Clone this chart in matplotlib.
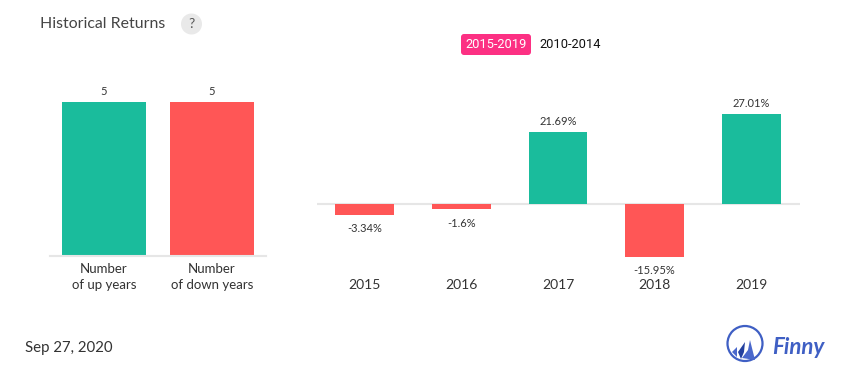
import numpy as np
from matplotlib import pyplot as plt
from matplotlib.patches import Circle, FancyBboxPatch, Polygon

plt.rcParams['font.family'] = ['Lato', 'Open Sans', 'DejaVu Sans']

W, H = 855, 382

count_labels = ['Number\nof up years', 'Number\nof down years']
count_values = [5, 5]

years = ['2015', '2016', '2017', '2018', '2019']
returns = [-3.34, -1.6, 21.69, -15.95, 27.01]
return_labels = ['-3.34%', '-1.6%', '21.69%', '-15.95%', '27.01%']

GREEN = '#1abc9c'
RED = '#ff5656'
GRID = '#e6e6e6'
TEXT = '#333333'


def px_axes(fig, left, top, right, bottom):
    # axes box from pixel edges, y counted from the top of the image
    return fig.add_axes([left / W, 1 - bottom / H, (right - left) / W, (bottom - top) / H])


def clean(ax):
    for side in ['top', 'left', 'right', 'bottom']:
        ax.spines[side].set_visible(False)
    ax.set_yticks([])
    ax.tick_params(axis='x', length=0, labelsize=10, labelcolor=TEXT)


fig = plt.figure(figsize=(W / 100, H / 100), dpi=100)

# left chart
ax1 = px_axes(fig, 50, 70, 266, 255.5)
x1 = np.arange(len(count_values))
ax1.bar(x1, count_values, width=0.778, color=[GREEN, RED], zorder=2)
ax1.set_xlim(-0.5, 1.5)
ax1.set_ylim(0, 5 * 185.5 / 153.5)
clean(ax1)
ax1.spines['bottom'].set_visible(True)
ax1.spines['bottom'].set_color(GRID)
ax1.spines['bottom'].set_linewidth(1.5)
ax1.set_xticks(x1, count_labels, linespacing=1.35)
ax1.tick_params(axis='x', pad=5.5, labelsize=9.5)
for x, v in zip(x1, count_values):
    ax1.annotate(str(v), (x, v), xytext=(0, 3.5), textcoords='offset points',
                 ha='center', va='bottom', fontsize=8, color=TEXT)

# right chart
ax2 = px_axes(fig, 316.5, 70, 799.5, 293)
x2 = np.arange(len(returns))
colors = [GREEN if v > 0 else RED for v in returns]
ax2.bar(x2, returns, width=0.61, color=colors, zorder=2)
ax2.axhline(0, color=GRID, lw=1.5, zorder=1)
ax2.set_xlim(-0.5, 4.5)
ax2.set_ylim(-89 / 3.32, 134 / 3.32)
clean(ax2)
ax2.set_xticks(x2, years)
ax2.tick_params(axis='x', pad=-10)
for x, v, s in zip(x2, returns, return_labels):
    if v > 0:
        ax2.annotate(s, (x, v), xytext=(0, 3.5), textcoords='offset points',
                     ha='center', va='bottom', fontsize=8, color=TEXT)
    else:
        ax2.annotate(s, (x, v), xytext=(0, -6), textcoords='offset points',
                     ha='center', va='top', fontsize=8, color=TEXT)

# page furniture in pixel coordinates
over = fig.add_axes([0, 0, 1, 1], facecolor='none')
over.set_xlim(0, W)
over.set_ylim(H, 0)
over.axis('off')

over.text(40, 24, 'Historical Returns', fontsize=11.4, color='#444444', va='center')
over.add_patch(Circle((191.5, 24), 10.5, fc='#e9e9e9', ec='none'))
over.text(191.5, 24, '?', fontsize=10, color='#555555', ha='center', va='center')

over.add_patch(FancyBboxPatch((461, 34), 70, 21, boxstyle='round,pad=0,rounding_size=3',
                              fc='#fc3083', ec='none'))
over.text(496, 44.5, '2015-2019', family='Roboto', fontsize=9.3, color='white', ha='center', va='center')
over.text(570, 44.5, '2010-2014', family='Roboto', fontsize=9.3, color='#111111', ha='center', va='center')

over.text(25, 348, 'Sep 27, 2020', fontsize=10.8, color='#333333', va='center')

# logo
over.add_patch(Circle((745, 343.5), 17.5, fc='white', ec='#3f5fc4', lw=1.6))
over.add_patch(Polygon([(750, 340), (755, 360), (742, 358), (748, 350)], fc='#4a68cc', ec='none'))
over.add_patch(Polygon([(745, 342), (738, 352), (741, 359), (744, 352)], fc='#23409f', ec='none'))
over.add_patch(Polygon([(737, 347), (732, 352), (737, 357)], fc='#4a68cc', ec='none'))
over.text(772, 347, 'Finny', fontsize=16, fontweight='bold', style='italic', color='#3f5fc4', va='center')

fig.savefig('out.png', dpi=100)
